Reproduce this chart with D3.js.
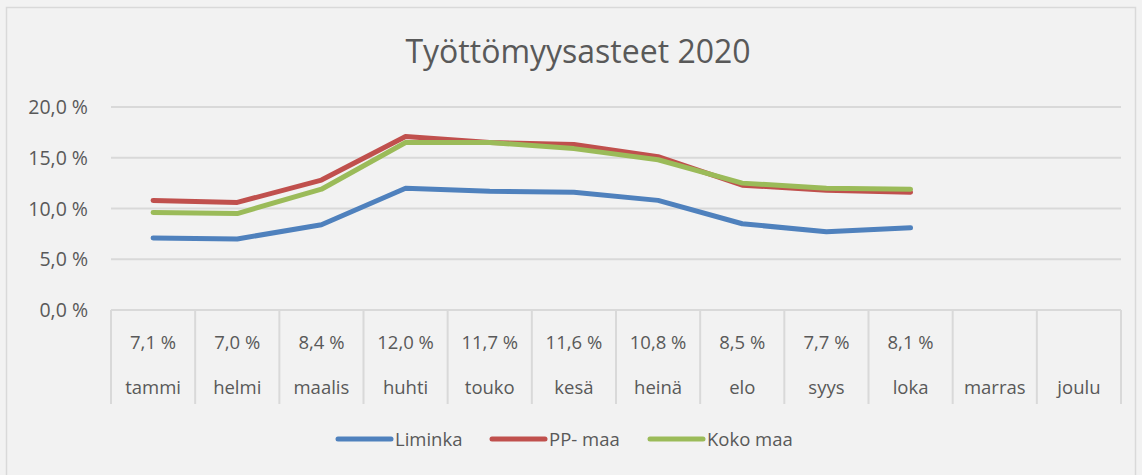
<!DOCTYPE html>
<html>
<head>
<meta charset="utf-8">
<script src="https://cdn.jsdelivr.net/npm/d3@7"></script>
<style>
  html, body { margin: 0; padding: 0; background: #fff; }
  svg text { font-family: "Open Sans", "DejaVu Sans", sans-serif; fill: #595959; }
</style>
</head>
<body>
<div id="chart"></div>
<script>
// kuukaudet
const months = ['tammi', 'helmi', 'maalis', 'huhti', 'touko', 'kesä', 'heinä', 'elo', 'syys', 'loka', 'marras', 'joulu'];
// työttömyysasteet (%), puuttuvat kuukaudet = null
const liminka = [7.1, 7.0, 8.4, 12.0, 11.7, 11.6, 10.8, 8.5, 7.7, 8.1, null, null];
const ppMaa = [10.8, 10.6, 12.8, 17.1, 16.5, 16.3, 15.1, 12.3, 11.8, 11.6, null, null];
const kokoMaa = [9.6, 9.5, 11.9, 16.5, 16.5, 15.9, 14.8, 12.5, 12.0, 11.9, null, null];
const yTicks = [0, 5, 10, 15, 20];

const series = [
    { name: 'Liminka', values: liminka, color: '#4f81bd' },
    { name: 'PP- maa', values: ppMaa, color: '#c0504d' },
    { name: 'Koko maa', values: kokoMaa, color: '#9bbb59' }
];

const width = 1142, height = 475;
const plot = { left: 111, right: 1121, top: 107, bottom: 310 };
const fmt = v => d3.format('.1f')(v).replace('.', ',') + ' %';

const svg = d3.select('#chart').append('svg')
    .attr('width', width)
    .attr('height', height);

// tausta ja reunus
svg.append('rect')
    .attr('width', width).attr('height', height)
    .attr('fill', '#f2f2f2');
svg.append('rect')
    .attr('x', 6.5).attr('y', 7.5)
    .attr('width', 1129).attr('height', 480)
    .attr('fill', 'none')
    .attr('stroke', '#d9d9d9')
    .attr('stroke-width', 1.5);

// otsikko
svg.append('text')
    .attr('x', 578).attr('y', 63)
    .attr('text-anchor', 'middle')
    .style('font-size', '32px')
    .text('Työttömyysasteet 2020');

const x = d3.scaleBand()
    .domain(months)
    .range([plot.left, plot.right]);

const y = d3.scaleLinear()
    .domain([0, 20])
    .range([plot.bottom, plot.top]);

// vaakaviivat
svg.append('g')
    .selectAll('line')
    .data(yTicks)
    .enter().append('line')
    .attr('x1', plot.left).attr('x2', plot.right)
    .attr('y1', d => y(d)).attr('y2', d => y(d))
    .attr('stroke', '#d9d9d9')
    .attr('stroke-width', 2);

// y-akselin tekstit
svg.append('g')
    .selectAll('text')
    .data(yTicks)
    .enter().append('text')
    .attr('x', 88)
    .attr('y', d => y(d) + 7)
    .attr('text-anchor', 'end')
    .style('font-size', '19.5px')
    .text(d => fmt(d));

// datataulukko
const tableBottom = 404;
svg.append('g')
    .selectAll('line')
    .data(months.map(m => x(m)).concat([plot.right]))
    .enter().append('line')
    .attr('x1', d => d).attr('x2', d => d)
    .attr('y1', plot.bottom).attr('y2', tableBottom)
    .attr('stroke', '#d9d9d9')
    .attr('stroke-width', 2);

svg.append('g')
    .selectAll('text')
    .data(months.map((m, i) => ({ m, v: liminka[i] })).filter(d => d.v != null))
    .enter().append('text')
    .attr('x', d => x(d.m) + x.bandwidth() / 2)
    .attr('y', 349)
    .attr('text-anchor', 'middle')
    .style('font-size', '18.5px')
    .text(d => fmt(d.v));

svg.append('g')
    .selectAll('text')
    .data(months)
    .enter().append('text')
    .attr('x', d => x(d) + x.bandwidth() / 2)
    .attr('y', 394)
    .attr('text-anchor', 'middle')
    .style('font-size', '18.5px')
    .text(d => d);

// viivat
const line = d3.line()
    .defined(d => d.v != null)
    .x(d => x(d.m) + x.bandwidth() / 2)
    .y(d => y(d.v));

svg.append('g')
    .selectAll('path')
    .data(series)
    .enter().append('path')
    .attr('d', s => line(months.map((m, i) => ({ m, v: s.values[i] }))))
    .attr('fill', 'none')
    .attr('stroke', s => s.color)
    .attr('stroke-width', 5)
    .attr('stroke-linecap', 'round')
    .attr('stroke-linejoin', 'round');

// selite
const legendX = [338, 492, 650];
const legend = svg.append('g')
    .selectAll('g')
    .data(series)
    .enter().append('g')
    .attr('transform', (d, i) => `translate(${legendX[i]},439)`);

legend.append('line')
    .attr('x1', 0).attr('x2', 53)
    .attr('stroke', d => d.color)
    .attr('stroke-width', 5)
    .attr('stroke-linecap', 'round');

legend.append('text')
    .attr('x', 57).attr('y', 7)
    .style('font-size', '18.5px')
    .text(d => d.name);
</script>
</body>
</html>
